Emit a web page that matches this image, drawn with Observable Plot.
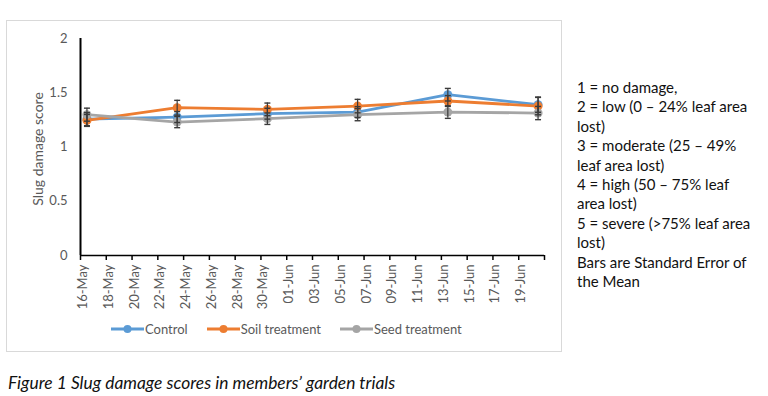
<!DOCTYPE html>
<html>
<head>
<meta charset="utf-8">
<script src="https://cdn.jsdelivr.net/npm/d3@7"></script>
<script src="https://cdn.jsdelivr.net/npm/@observablehq/plot@0.6"></script>
<style>
  body { margin:0; background:#fff; width:768px; height:396px; position:relative; overflow:hidden; font-family:Lato, "Open Sans", sans-serif; }
  #box { position:absolute; left:6px; top:20px; width:556px; height:332px; border:1px solid #d9d9d9; box-sizing:border-box; }
  #chart { position:absolute; left:7px; top:20px; }
  #ytitle { position:absolute; left:36.5px; top:149px; transform:translate(-50%,-50%) rotate(-90deg); font-size:14px; color:#595959; white-space:nowrap; }
  #legend { position:absolute; left:111px; top:320px; display:flex; gap:19px; font-size:13px; color:#595959; line-height:18px; }
  #legend .item { display:flex; align-items:center; gap:1px; }
  #notes { position:absolute; left:577px; top:78px; font-size:15px; line-height:19.4px; color:#111; }
  #caption { position:absolute; left:8px; top:372px; font-size:17.4px; font-style:italic; color:#111; }
</style>
</head>
<body>
<div id="box"></div>
<div id="chart"></div>
<div id="ytitle">Slug damage score</div>
<div id="legend"></div>
<div id="notes">1 = no damage,<br>2 = low (0 – 24% leaf area<br>lost)<br>3 = moderate (25 – 49%<br>leaf area lost)<br>4 = high (50 – 75% leaf<br>area lost)<br>5 = severe (&gt;75% leaf area<br>lost)<br>Bars are Standard Error of<br>the Mean</div>
<div id="caption">Figure 1 Slug damage scores in members’ garden trials</div>
<script>
// ---- data ----
const dates = ["16-May", "23-May", "30-May", "06-Jun", "13-Jun", "20-Jun"];
const seriesNames = ["Control", "Soil treatment", "Seed treatment"];
const seriesColors = ["#5B9BD5", "#ED7D31", "#A5A5A5"];
const controlValues = [1.257, 1.276, 1.307, 1.322, 1.482, 1.390];
const controlSE     = [0.060, 0.050, 0.050, 0.050, 0.058, 0.070];
const soilValues    = [1.245, 1.362, 1.347, 1.377, 1.424, 1.377];
const soilSE        = [0.055, 0.068, 0.058, 0.062, 0.050, 0.080];
const seedValues    = [1.298, 1.230, 1.261, 1.298, 1.322, 1.313];
const seedSE        = [0.060, 0.052, 0.053, 0.056, 0.058, 0.061];
const xTickLabels = ["16-May","18-May","20-May","22-May","24-May","26-May","28-May","30-May",
  "01-Jun","03-Jun","05-Jun","07-Jun","09-Jun","11-Jun","13-Jun","15-Jun","17-Jun","19-Jun"];
const xDomain = ["16-May", "21-Jun"];
const yTicks = [0, 0.5, 1, 1.5, 2];

// ---- build ----
const parse = d3.utcParse("%d-%b-%Y");
const P = s => parse(s + "-2021");
const mid = s => d3.utcHour.offset(P(s), 12); // centre of the day (date axis, between tick marks)

const valuesBySeries = [controlValues, soilValues, seedValues];
const seBySeries = [controlSE, soilSE, seedSE];
const rows = seriesNames.flatMap((name, i) =>
  dates.map((d, j) => ({series: name, date: d, v: valuesBySeries[i][j], se: seBySeries[i][j]})));
const caps = rows.flatMap(r => [{...r, c: r.v - r.se}, {...r, c: r.v + r.se}]);
const tickDates = [...xTickLabels, xDomain[1]].map(P);

const capSymbol = { draw(ctx) { ctx.moveTo(-3, 0); ctx.lineTo(3, 0); } };

const marks = [
  Plot.axisY({ticks: yTicks, tickSize: 0, tickPadding: 13, fontSize: 13, fill: "#595959", label: null, tickFormat: d => String(d)}),
  Plot.axisX(tickDates, {tickSize: 5, tickFormat: () => "", stroke: "#000", strokeWidth: 1.5, label: null}),
  Plot.text(xTickLabels, {x: d => mid(d), frameAnchor: "bottom", dy: 9, rotate: -90, textAnchor: "end", fontSize: 13, fill: "#595959"}),
  Plot.ruleY([0], {stroke: "#000", strokeWidth: 1.7}),
  Plot.ruleX([P(xDomain[0])], {y1: yTicks[0], y2: yTicks[yTicks.length - 1], stroke: "#000", strokeWidth: 2})
];
for (const name of seriesNames) {
  const sr = rows.filter(r => r.series === name);
  marks.push(Plot.line(sr, {x: d => mid(d.date), y: "v", stroke: "series", strokeWidth: 2.8}));
  marks.push(Plot.dot(sr, {x: d => mid(d.date), y: "v", fill: "series", r: 4.5}));
}
marks.push(Plot.ruleX(rows, {x: d => mid(d.date), y1: d => d.v - d.se, y2: d => d.v + d.se, stroke: "#3a3a3a", strokeWidth: 1.2}));
marks.push(Plot.dot(caps, {x: d => mid(d.date), y: "c", symbol: capSymbol, stroke: "#3a3a3a", strokeWidth: 1.4, r: 3}));

const chart = Plot.plot({
  width: 554, height: 290,
  marginLeft: 73, marginRight: 17, marginTop: 18, marginBottom: 55,
  x: {type: "utc", domain: xDomain.map(P), axis: null},
  y: {domain: [yTicks[0], yTicks[yTicks.length - 1]], axis: null},
  color: {domain: seriesNames, range: seriesColors},
  style: {fontFamily: "Lato, 'Open Sans', sans-serif", background: "transparent", overflow: "visible"},
  marks
});
document.getElementById("chart").appendChild(chart);

// legend
const legend = document.getElementById("legend");
seriesNames.forEach((name, i) => {
  const item = document.createElement("div");
  item.className = "item";
  item.innerHTML = `<svg width="33" height="10"><line x1="0" y1="5" x2="33" y2="5" stroke="${seriesColors[i]}" stroke-width="2.8"/><circle cx="16.5" cy="5" r="4" fill="${seriesColors[i]}"/></svg><span>${name}</span>`;
  legend.appendChild(item);
});
</script>
</body>
</html>
